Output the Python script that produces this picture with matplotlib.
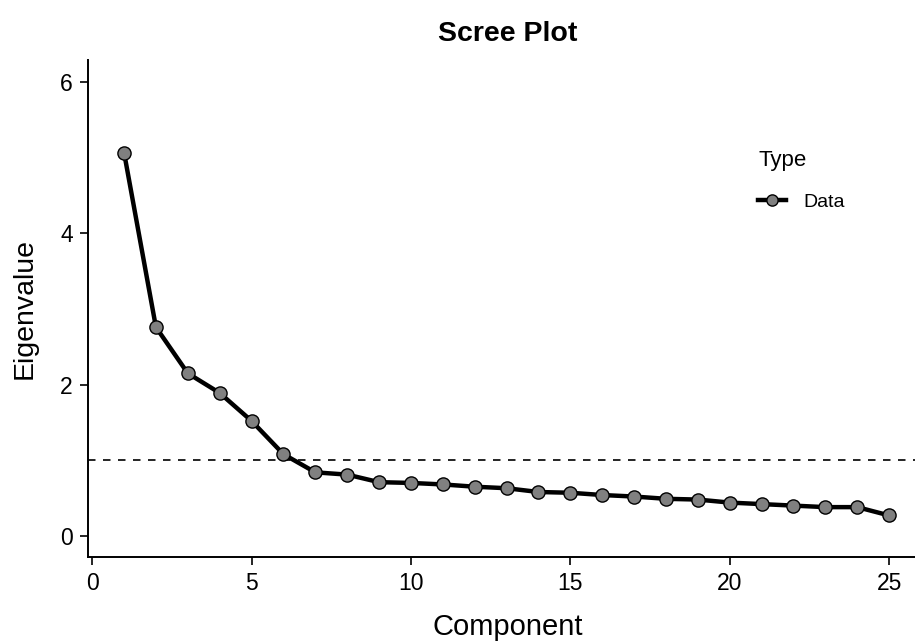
import matplotlib
matplotlib.use("Agg")
import matplotlib.pyplot as plt

plt.rcParams['font.family'] = ['Liberation Sans', 'DejaVu Sans']

# eigenvalues
components = list(range(1, 26))
eigenvalues = [5.07, 2.76, 2.15, 1.89, 1.52, 1.08, 0.84, 0.81, 0.71, 0.70,
               0.68, 0.65, 0.63, 0.58, 0.57, 0.54, 0.52, 0.49, 0.48, 0.44,
               0.42, 0.40, 0.38, 0.38, 0.27]
cutoff = 1.0

fig = plt.figure(figsize=(9.15, 6.41), dpi=100)
# panel runs slightly past the right edge of the picture, as in the original
ax = fig.add_axes([0.0962, 0.131, 0.918, 0.775])

ax.axhline(cutoff, color='black', linestyle=(0, (4.5, 4.5)), linewidth=1.2, zorder=1)
ax.plot(components, eigenvalues, color='black', linewidth=3.2, marker='o',
        markersize=9.5, markerfacecolor='#808080', markeredgecolor='black',
        markeredgewidth=1.0, label='Data', zorder=3)

ax.set_xlim(-0.13, 26.22)
ax.set_ylim(-0.28, 6.29)
ax.set_xticks([0, 5, 10, 15, 20, 25])
ax.set_yticks([0, 2, 4, 6])

for s in ['top', 'right']:
    ax.spines[s].set_visible(False)
for s in ['left', 'bottom']:
    ax.spines[s].set_linewidth(1.4)
ax.tick_params(direction='out', length=6, width=1.2, labelsize=16.5,
               colors='black', pad=5)

ax.set_xlabel('Component', fontsize=21, labelpad=13)
ax.set_ylabel('Eigenvalue', fontsize=20.5, labelpad=16)
ax.set_title('Scree Plot', fontsize=20.5, fontweight='bold', pad=14)

leg = ax.legend(title='Type', loc='upper left', bbox_to_anchor=(0.777, 0.855),
                frameon=False, fontsize=14, title_fontsize=16,
                handlelength=1.45, handletextpad=0.85, markerscale=0.85)
leg._legend_box.align = 'left'
leg._legend_box.sep = 16

fig.savefig('out.png', dpi=100)
